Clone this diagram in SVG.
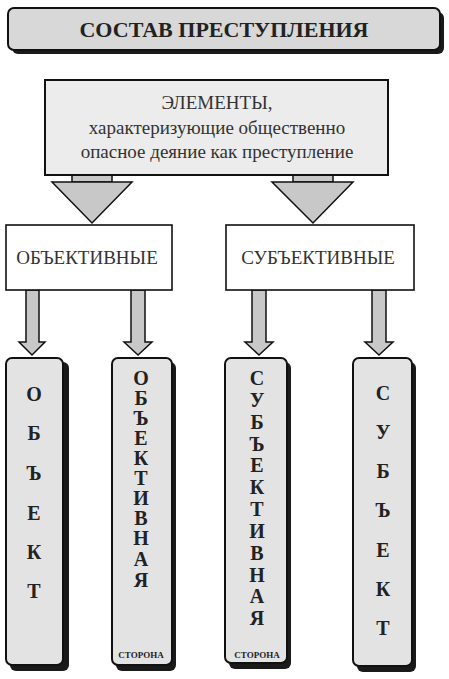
<svg xmlns="http://www.w3.org/2000/svg" width="449" height="679" viewBox="0 0 449 679">
<style>
.bg{fill:#ffffff}
.shadow{fill:#1a1a1a}
.col{fill:#e3e3e3;stroke:#111;stroke-width:2}
.box{fill:#ffffff;stroke:#111;stroke-width:1.6}
.arr{fill:#c8c8c8;stroke:#111;stroke-width:1.5;stroke-linejoin:miter}
.t{font-family:"Liberation Serif","Times New Roman",serif;fill:#222;text-anchor:middle}
.big{font-size:22px;font-weight:bold}
.let{font-size:20px;font-weight:bold}
.small{font-size:9px;font-weight:bold}
.mid{font-size:19px;fill:#333}
</style>
<rect class="bg" x="0" y="0" width="449" height="679"/>
<g id="connectors">
  <rect class="arr" x="72" y="175" width="40" height="7"/>
  <polygon class="arr" points="52,182 132,182 92,223"/>
  <rect class="arr" x="293" y="175" width="40" height="7"/>
  <polygon class="arr" points="272,182 353,182 313,223"/>
  <polygon class="arr" points="26,290 39,290 39,342 45,342 32,355 19,342 26,342"/>
  <polygon class="arr" points="131,290 145,290 145,342 152,342 138,355 124,342 131,342"/>
  <polygon class="arr" points="252,290 266,290 266,342 273,342 259,355 245,342 252,342"/>
  <polygon class="arr" points="372,290 386,290 386,342 393,342 379,355 365,342 372,342"/>
</g>
<g id="title">
  <rect class="shadow" x="12" y="12" width="432" height="42" rx="6"/>
  <rect x="8" y="8" width="432" height="42" rx="6" fill="#d8d8d8" stroke="#111" stroke-width="2"/>
  <text class="t big" x="224" y="37">СОСТАВ ПРЕСТУПЛЕНИЯ</text>
</g>
<g id="elements">
  <rect x="45" y="80" width="343" height="95" fill="#ececec" stroke="#111" stroke-width="2"/>
  <text class="t mid" x="217" y="109">ЭЛЕМЕНТЫ,</text>
  <text class="t mid" x="217" y="134">характеризующие общественно</text>
  <text class="t mid" x="217" y="158">опасное деяние как преступление</text>
</g>
<g id="objective">
  <rect class="box" x="6" y="225" width="166" height="65"/>
  <text class="t mid" x="87" y="264">ОБЪЕКТИВНЫЕ</text>
</g>
<g id="subjective">
  <rect class="box" x="226" y="225" width="188" height="65"/>
  <text class="t mid" x="318" y="264">СУБЪЕКТИВНЫЕ</text>
</g>
<g id="object">
  <rect class="shadow" x="10" y="362" width="59" height="309" rx="6"/>
  <rect class="col" x="6" y="358" width="57" height="307" rx="6"/>
  <text class="t let" x="34"><tspan x="34" y="401">О</tspan><tspan x="34" y="440">Б</tspan><tspan x="34" y="480">Ъ</tspan><tspan x="34" y="520">Е</tspan><tspan x="34" y="559">К</tspan><tspan x="34" y="598">Т</tspan></text>
</g>
<g id="objective-side">
  <rect class="shadow" x="116" y="362" width="60" height="309" rx="6"/>
  <rect class="col" x="112" y="358" width="60" height="307" rx="6"/>
  <text class="t let" x="141"><tspan x="141" y="385">О</tspan><tspan x="141" y="405">Б</tspan><tspan x="141" y="425">Ъ</tspan><tspan x="141" y="445">Е</tspan><tspan x="141" y="465">К</tspan><tspan x="141" y="485">Т</tspan><tspan x="141" y="505">И</tspan><tspan x="141" y="525">В</tspan><tspan x="141" y="545">Н</tspan><tspan x="141" y="566">А</tspan><tspan x="141" y="587">Я</tspan></text>
  <text class="t small" x="141" y="658">СТОРОНА</text>
</g>
<g id="subjective-side">
  <rect class="shadow" x="229" y="362" width="62" height="307" rx="6"/>
  <rect class="col" x="225" y="358" width="62" height="305" rx="6"/>
  <text class="t let" x="257"><tspan x="257" y="385">С</tspan><tspan x="257" y="407">У</tspan><tspan x="257" y="429">Б</tspan><tspan x="257" y="451">Ъ</tspan><tspan x="257" y="472">Е</tspan><tspan x="257" y="494">К</tspan><tspan x="257" y="516">Т</tspan><tspan x="257" y="538">И</tspan><tspan x="257" y="560">В</tspan><tspan x="257" y="582">Н</tspan><tspan x="257" y="603">А</tspan><tspan x="257" y="625">Я</tspan></text>
  <text class="t small" x="257" y="658">СТОРОНА</text>
</g>
<g id="subject">
  <rect class="shadow" x="357" y="362" width="59" height="310" rx="6"/>
  <rect class="col" x="353" y="358" width="59" height="308" rx="6"/>
  <text class="t let" x="383"><tspan x="383" y="400">С</tspan><tspan x="383" y="439">У</tspan><tspan x="383" y="478">Б</tspan><tspan x="383" y="517">Ъ</tspan><tspan x="383" y="557">Е</tspan><tspan x="383" y="596">К</tspan><tspan x="383" y="635">Т</tspan></text>
</g>
</svg>
